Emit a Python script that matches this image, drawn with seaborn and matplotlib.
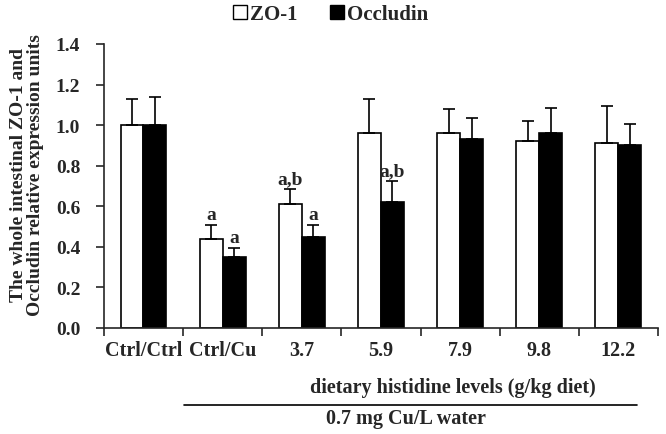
import matplotlib
matplotlib.use("Agg")
import matplotlib.pyplot as plt
from matplotlib.lines import Line2D
import seaborn as sns
import pandas as pd
import numpy as np

categories = ["Ctrl/Ctrl", "Ctrl/Cu", "3.7", "5.9", "7.9", "9.8", "12.2"]
zo1 = [1.00, 0.44, 0.61, 0.96, 0.96, 0.92, 0.91]
zo1_err = [0.13, 0.07, 0.075, 0.17, 0.12, 0.10, 0.185]
occludin = [1.00, 0.35, 0.45, 0.62, 0.93, 0.96, 0.90]
occludin_err = [0.14, 0.045, 0.06, 0.105, 0.105, 0.125, 0.105]
zo1_labels = ["", "a", "a,b", "", "", "", ""]
occludin_labels = ["", "a", "a", "a,b", "", "", ""]
series = ["ZO-1", "Occludin"]

sns.set_style("ticks")
plt.rcParams["font.family"] = ["Liberation Serif", "DejaVu Serif"]
plt.rcParams["font.weight"] = "bold"

df = pd.DataFrame({
    "group": categories * 2,
    "series": [series[0]] * len(categories) + [series[1]] * len(categories),
    "value": zo1 + occludin,
})

fig = plt.figure(figsize=(6.66, 4.35), dpi=100)
ax = fig.add_axes([0.156, 0.2437, 0.832, 0.6529])

sns.barplot(data=df, x="group", y="value", hue="series", order=categories,
            hue_order=series, palette=["white", "black"], width=0.58,
            edgecolor="black", linewidth=1.2, errorbar=None, ax=ax, legend=False)

# error bars and significance letters
cont_z, cont_o = ax.containers[0], ax.containers[1]
for bars, vals, errs, labs in [(cont_z, zo1, zo1_err, zo1_labels),
                               (cont_o, occludin, occludin_err, occludin_labels)]:
    for bar, v, e, lab in zip(bars, vals, errs, labs):
        cx = bar.get_x() + bar.get_width() / 2
        ax.errorbar(cx, v, yerr=[[0], [e]], fmt="none", ecolor="black",
                    elinewidth=1.2, capsize=4.5, capthick=1.2)
        if lab:
            ax.text(cx, v + e + 0.008, lab, ha="center", va="bottom",
                    fontsize=14, fontweight="bold")

ax.set_ylim(0, 1.4)
ax.set_xlim(-0.5, len(categories) - 0.5)
yt = np.arange(0, 1.41, 0.2)
ax.set_yticks(yt)
ax.set_yticklabels([f"{t:.1f}" for t in yt], fontsize=14, fontweight="bold")
ax.set_xticks(np.arange(-0.5, len(categories), 1.0))
ax.set_xticklabels([])
ax.set_xticks(np.arange(len(categories)), minor=True)
ax.set_xticklabels(categories, minor=True, fontsize=14.5, fontweight="bold")
ax.tick_params(axis="x", which="major", direction="out", length=6, width=1.2)
ax.tick_params(axis="x", which="minor", length=0, pad=9)
ax.tick_params(axis="y", direction="out", length=6, width=1.2, pad=11)
ax.set_xlabel("")
ax.set_ylabel("")
for s in ["top", "right"]:
    ax.spines[s].set_visible(False)
for s in ["left", "bottom"]:
    ax.spines[s].set_linewidth(1.2)

fig.text(27 / 666, 1 - 175 / 435,
         "The whole intestinal ZO-1 and\nOccludin relative expression units",
         rotation=90, ha="center", va="center", multialignment="center",
         linespacing=1.05, fontsize=14, fontweight="bold")

# legend
handles = [Line2D([], [], marker="s", color="none", markerfacecolor="white",
                  markeredgecolor="black", markersize=10, linestyle="none"),
           Line2D([], [], marker="s", color="none", markerfacecolor="black",
                  markeredgecolor="black", markersize=10, linestyle="none")]
fig.legend(handles, series, loc="center", bbox_to_anchor=(0.4955, 0.9655), ncol=2,
           frameon=False, handlelength=0.8, handletextpad=0.1, columnspacing=1.48,
           prop={"size": 15, "weight": "bold"})

# bottom annotations
fig.text(453 / 666, 1 - 388 / 435, "dietary histidine levels (g/kg diet)",
         ha="center", va="center", fontsize=14.5, fontweight="bold")
fig.add_artist(Line2D([184 / 666, 637 / 666], [1 - 405.7 / 435] * 2, color="black",
                      linewidth=1.2))
fig.text(406 / 666, 1 - 419 / 435, "0.7 mg Cu/L water", ha="center", va="center",
         fontsize=14.5, fontweight="bold")

fig.savefig("out.png", dpi=100)
